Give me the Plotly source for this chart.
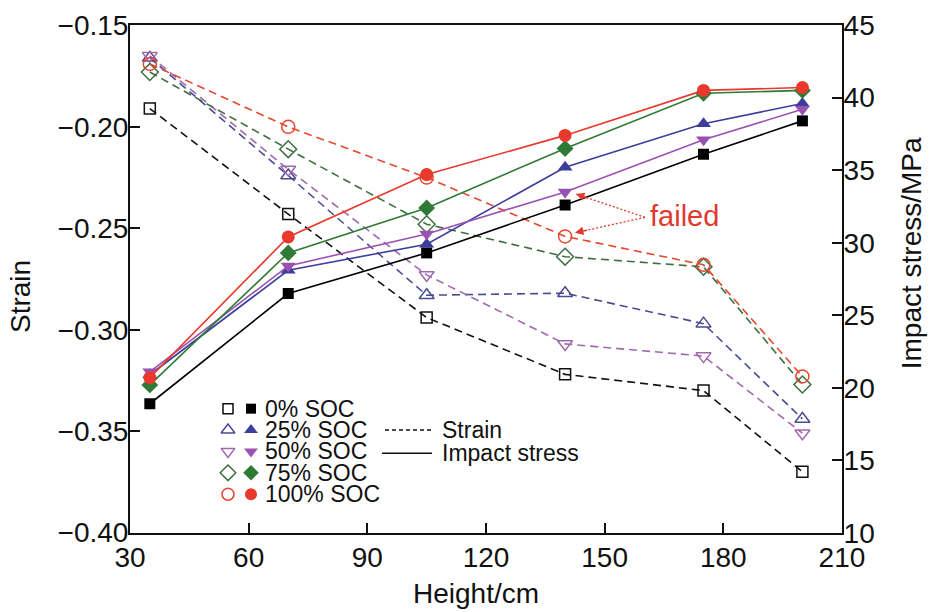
import plotly.graph_objects as go

# ---------------- data ----------------
heights = [35, 70, 105, 140, 175, 200]
soc_labels = ["0% SOC", "25% SOC", "50% SOC", "75% SOC", "100% SOC"]

strain_0 = [-0.191, -0.243, -0.294, -0.322, -0.330, -0.370]
strain_25 = [-0.166, -0.224, -0.283, -0.282, -0.297, -0.344]
strain_50 = [-0.165, -0.221, -0.273, -0.307, -0.313, -0.351]
strain_75 = [-0.173, -0.211, -0.248, -0.264, -0.269, -0.327]
strain_100 = [-0.169, -0.200, -0.225, -0.254, -0.268, -0.323]

stress_0 = [18.9, 26.5, 29.3, 32.6, 36.1, 38.4]
stress_25 = [20.9, 28.1, 29.9, 35.2, 38.2, 39.6]
stress_50 = [21.1, 28.4, 30.6, 33.5, 37.1, 39.2]
stress_75 = [20.2, 29.3, 32.4, 36.5, 40.3, 40.5]
stress_100 = [20.7, 30.4, 34.7, 37.4, 40.5, 40.7]

x_ticks = [30, 60, 90, 120, 150, 180, 210]
strain_ticks = [-0.40, -0.35, -0.30, -0.25, -0.20, -0.15]
stress_ticks = [10, 15, 20, 25, 30, 35, 40, 45]

# ---------------- styles ----------------
FONT = "Liberation Sans, Arial, sans-serif"
strain_series = [strain_0, strain_25, strain_50, strain_75, strain_100]
stress_series = [stress_0, stress_25, stress_50, stress_75, stress_100]
line_colors = ["#000000", "#3d3d9c", "#9a52b2", "#2f7b35", "#e8392c"]
dash_colors = ["#111111", "#4a4a92", "#a06aae", "#3d6f40", "#e5482f"]
open_symbols = ["square-open", "triangle-up-open", "triangle-down-open", "diamond-open", "circle-open"]
fill_symbols = ["square", "triangle-up", "triangle-down", "diamond", "circle"]
msizes = [11, 13, 13, 13, 13]

fig = go.Figure()

# strain (dashed, open markers) on left axis
for i in range(5):
    fig.add_trace(go.Scatter(
        x=heights, y=strain_series[i], mode="lines+markers", yaxis="y",
        line=dict(color=dash_colors[i], width=1.6, dash="8px,5px"),
        marker=dict(symbol=open_symbols[i], size=msizes[i], color=dash_colors[i],
                    line=dict(width=1.5, color=dash_colors[i])),
        showlegend=False, hoverinfo="x+y"))

# impact stress (solid, filled markers) on right axis
for i in range(5):
    fig.add_trace(go.Scatter(
        x=heights, y=stress_series[i], mode="lines+markers", yaxis="y2",
        line=dict(color=line_colors[i], width=1.6),
        marker=dict(symbol=fill_symbols[i], size=msizes[i], color=line_colors[i],
                    line=dict(width=0)),
        showlegend=False, hoverinfo="x+y"))

# ---------------- custom legend (overlay axes in plot-fraction units) ----------------
L, R, T, B = 130, 842, 10, 533  # plot area in page pixels


def px(xp):
    return (xp - L) / (R - L)


def py(yp):
    return (B - yp) / (B - T)


LEG_FONT = dict(family=FONT, size=23, color="#111111")
row_y = [405 + 22 * k for k in range(5)]
for i in range(5):
    fig.add_trace(go.Scatter(
        x=[px(228)], y=[py(row_y[i])], xaxis="x3", yaxis="y3", mode="markers",
        marker=dict(symbol=open_symbols[i], size=msizes[i] - 1, color=dash_colors[i],
                    line=dict(width=1.5, color=dash_colors[i])),
        showlegend=False, hoverinfo="skip"))
    fig.add_trace(go.Scatter(
        x=[px(251)], y=[py(row_y[i])], xaxis="x3", yaxis="y3", mode="markers",
        marker=dict(symbol=fill_symbols[i], size=msizes[i] - 1, color=line_colors[i]),
        showlegend=False, hoverinfo="skip"))
    fig.add_annotation(x=px(263), y=py(row_y[i]), xref="paper", yref="paper", text=soc_labels[i],
                       showarrow=False, xanchor="left", yanchor="middle", font=LEG_FONT)

fig.add_trace(go.Scatter(x=[px(385), px(432)], y=[py(427), py(427)], xaxis="x3", yaxis="y3",
                         mode="lines", line=dict(color="#111111", width=1.5, dash="4px,3px"),
                         showlegend=False, hoverinfo="skip"))
fig.add_trace(go.Scatter(x=[px(382), px(432)], y=[py(451), py(451)], xaxis="x3", yaxis="y3",
                         mode="lines", line=dict(color="#111111", width=1.5),
                         showlegend=False, hoverinfo="skip"))
fig.add_annotation(x=px(440), y=py(427), xref="paper", yref="paper", text="Strain", showarrow=False,
                   xanchor="left", yanchor="middle", font=LEG_FONT)
fig.add_annotation(x=px(440), y=py(451), xref="paper", yref="paper", text="Impact stress",
                   showarrow=False, xanchor="left", yanchor="middle", font=LEG_FONT)

# ---------------- "failed" annotation ----------------
RED = "#e03a30"
fig.add_annotation(x=px(684), y=py(207), xref="paper", yref="paper", text="failed", showarrow=False,
                   xanchor="center", yanchor="middle", font=dict(family=FONT, size=29, color=RED))
for (hx, hy) in [(576, 184), (575, 224)]:
    fig.add_trace(go.Scatter(x=[px(645), px(hx)], y=[py(208), py(hy)], xaxis="x3", yaxis="y3",
                             mode="lines", line=dict(color=RED, width=1.3, dash="2px,2px"),
                             showlegend=False, hoverinfo="skip"))
    dx, dy = 645 - hx, 208 - hy
    n = (dx * dx + dy * dy) ** 0.5
    fig.add_annotation(x=px(hx), y=py(hy), xref="paper", yref="paper", text="", showarrow=True,
                       ax=dx / n * 14, ay=dy / n * 14, arrowhead=2, arrowsize=1.3,
                       arrowwidth=1.3, arrowcolor=RED)

# ---------------- axis titles ----------------
TITLE_FONT = dict(family=FONT, size=28, color="#111111")
fig.add_annotation(x=px(476), y=py(595), xref="paper", yref="paper", text="Height/cm",
                   showarrow=False, xanchor="center", yanchor="middle", font=TITLE_FONT)
fig.add_annotation(x=px(21), y=py(289), xref="paper", yref="paper", text="Strain", showarrow=False,
                   textangle=-90, xanchor="center", yanchor="middle", font=TITLE_FONT)
fig.add_annotation(x=px(911), y=py(245), xref="paper", yref="paper", text="Impact stress/MPa",
                   showarrow=False, textangle=-90, xanchor="center", yanchor="middle", font=TITLE_FONT)

# ---------------- layout ----------------
axis_common = dict(showgrid=False, zeroline=False, ticks="inside", ticklen=10, tickwidth=2,
                   tickcolor="#111111", showline=True, linecolor="#111111", linewidth=2,
                   ticklabeloverflow="allow",
                   tickfont=dict(family=FONT, size=28, color="#111111"))

fig.update_layout(
    width=929, height=612,
    margin=dict(l=L, r=929 - R, t=T, b=612 - B),
    paper_bgcolor="white", plot_bgcolor="white",
    font=dict(family=FONT, color="#111111"),
    xaxis=dict(range=[29.99, 210.01], tickvals=x_ticks, mirror=True, ticklabelstandoff=-2,
               **axis_common),
    yaxis=dict(range=[-0.4002, -0.1498], tickvals=strain_ticks, tickformat=".2f",
               ticklabelstandoff=-6, **axis_common),
    yaxis2=dict(range=[9.99, 45.01], tickvals=stress_ticks, overlaying="y", side="right",
                ticklabelstandoff=-6, **axis_common),
    xaxis3=dict(range=[0, 1], overlaying="x", visible=False, anchor="y3"),
    yaxis3=dict(range=[0, 1], overlaying="y", visible=False, anchor="x3"),
)

fig.write_html("out.html", config={"displayModeBar": False},
               post_script="document.body.style.margin='0';")
